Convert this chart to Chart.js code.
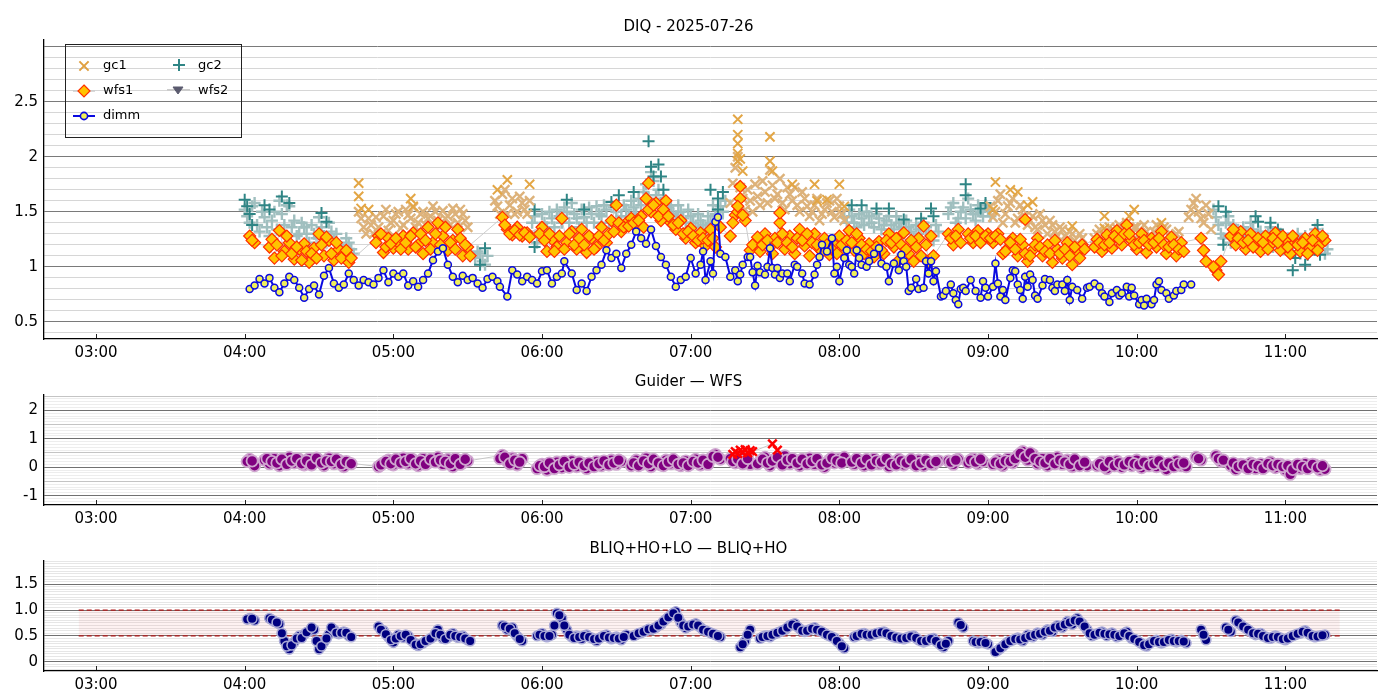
<!DOCTYPE html>
<html>
<head>
<meta charset="utf-8">
<script src="https://cdn.jsdelivr.net/npm/chart.js@4.4.1/dist/chart.umd.min.js"></script>
<style>
body { margin: 0; background: #fff; width: 1400px; height: 700px; overflow: hidden; position: relative; }
canvas { position: absolute; left: 0; }
</style>
</head>
<body>
<canvas id="c0" width="1400" height="362" style="top:0px"></canvas>
<canvas id="c1" width="1400" height="166" style="top:360px"></canvas>
<canvas id="c2" width="1400" height="170" style="top:526px"></canvas>
<script>
// time axis: minutes after midnight. "A" grids hold even minutes from 04:00, "B" grids the odd minutes
const GRID_START = 240;
const GRID_STEP = 2;
const X_MIN = 159, X_MAX = 697;
const hourTicks = [180, 240, 300, 360, 420, 480, 540, 600, 660];
const hourLabels = ['03:00', '04:00', '05:00', '06:00', '07:00', '08:00', '09:00', '10:00', '11:00'];

const titles = ['DIQ - 2025-07-26', 'Guider — WFS', 'BLIQ+HO+LO — BLIQ+HO'];
const seriesNames = ['gc1', 'gc2', 'wfs1', 'wfs2', 'dimm'];

const topYTicks = [0.5, 1, 1.5, 2, 2.5];
const topYLabels = ['0.5', '1', '1.5', '2', '2.5'];
const midYTicks = [-1, 0, 1, 2];
const midYLabels = ['-1', '0', '1', '2'];
const botYTicks = [0, 0.5, 1, 1.5];
const botYLabels = ['0', '0.5', '1.0', '1.5'];

// target band in the lower panel
const bandLo = 0.5, bandHi = 1.0, bandStart = 173, bandEnd = 682;

// ---- DIQ panel ----
// dimm: minutes after 04:00 / value
const dimmT = [2,4,6,8,10,12,14,16,18,20,22,24,26,28,30,32,34,36,38,40,42,44,46,48,50,52,54,56,58,60,62,64,66,68,70,72,74,76,78,80,82,84,86,88,90,92,94,96,98,
  100,102,103,106,108,110,112,114,116,118,120,122,124,126,128,129,132,134,136,138,140,142,144,146,148,150,152,154,156,158,160,162,164,166,168,170,172,174,176,178,180,182,184,185,186,188,189,190,191,192,194,196,
  198,199,200,201,203,204,205,206,207,208,210,211,212,213,214,215,216,217,219,220,222,223,225,226,228,230,231,232,233,235,
  237,238,239,240,242,243,244,245,246,247,248,249,251,252,254,256,257,259,260,262,264,265,266,267,268,269,271,272,274,275,
  276,277,278,279,281,282,283,285,286,287,288,289,290,291,293,295,297,298,
  299,300,302,303,304,305,306,307,309,310,311,312,313,314,315,316,317,318,319,320,322,323,325,326,327,328,330,331,332,333,
  334,336,338,340,341,343,345,346,347,349,350,352,353,354,356,357,358,359,361,362,363,364,366,367,368,369,370,372,373,375,376,378,379,382];
const dimmV = [0.80,0.83,0.89,0.85,0.90,0.81,0.77,0.85,0.91,0.88,0.81,0.72,0.80,0.83,0.75,0.92,0.99,0.85,0.81,0.84,0.94,0.88,0.83,0.88,0.86,0.84,0.90,0.97,0.86,0.94,0.91,0.94,0.83,0.87,0.82,0.88,0.94,1.06,1.14,1.17,1.02,0.91,0.86,0.92,0.88,0.90,0.85,0.81,0.89,
  0.91,0.87,0.82,0.73,0.97,0.93,0.87,0.91,0.88,0.85,0.96,0.97,0.85,0.91,0.94,1.05,0.94,0.79,0.85,0.78,0.91,0.97,1.02,1.15,1.08,1.12,0.99,1.12,1.20,1.32,1.26,1.21,1.34,1.19,1.09,1.02,0.91,0.82,0.88,0.91,1.08,0.94,1.02,1.14,0.88,1.05,0.94,1.41,1.45,1.12,1.09,0.91,
  0.97,0.87,0.93,1.02,1.09,1.09,0.95,0.83,1.01,0.95,0.93,1.00,1.17,0.99,0.93,0.99,0.90,0.94,0.94,0.87,1.02,1.00,0.94,0.85,0.84,0.93,1.02,1.09,1.20,1.14,
  1.26,0.94,1.00,0.87,1.08,1.15,1.02,1.00,0.94,1.15,1.08,1.02,1.00,1.05,1.12,1.17,1.03,1.00,0.87,1.03,0.97,1.11,1.05,1.00,0.78,0.81,0.89,0.80,0.81,1.05,
  0.94,1.05,0.87,0.96,0.73,0.74,0.78,0.84,0.76,0.70,0.66,0.80,0.81,0.78,0.88,0.78,0.72,0.87,
  0.81,0.73,0.82,1.03,0.85,0.73,0.79,0.70,0.90,0.97,0.96,0.84,0.79,0.71,0.91,0.82,0.93,0.88,0.74,0.71,0.83,0.89,0.88,0.81,0.78,0.84,0.84,0.78,0.88,0.70,
  0.82,0.79,0.71,0.81,0.82,0.85,0.82,0.76,0.73,0.68,0.76,0.79,0.74,0.76,0.82,0.73,0.81,0.74,0.66,0.70,0.65,0.71,0.66,0.70,0.84,0.87,0.79,0.76,0.71,0.74,0.78,0.79,0.84,0.84];

// wfs1 (rows = hours 04..11)
const wfs1A = [
  null,1.28,1.22,null,null,1.18,1.08,1.33,1.14,1.22,1.07,1.16,1.21,1.04,1.17,1.30,1.10,1.24,1.06,1.16,1.12,1.04,null,null,null,null,null,1.28,1.13,1.26,
  1.17,1.22,1.28,1.16,1.31,1.20,1.12,1.36,1.22,1.40,1.28,1.15,1.24,1.34,1.10,1.18,null,null,null,null,null,null,1.45,1.34,1.29,1.36,1.28,1.31,null,null,
  1.36,1.14,1.25,1.18,1.44,1.22,1.32,1.16,1.34,1.13,1.26,1.18,1.36,1.22,1.42,1.56,1.32,1.40,1.44,1.36,1.46,1.62,1.50,1.58,1.42,1.60,1.40,1.34,1.42,1.26,
  1.35,1.22,1.31,1.19,1.34,1.18,1.36,null,1.28,1.47,1.62,1.42,1.15,1.22,1.14,1.30,1.18,1.26,1.40,1.16,1.28,1.12,1.34,1.19,1.10,1.30,1.16,1.26,1.11,1.20,
  1.28,1.14,1.33,1.15,1.26,1.12,1.21,1.09,1.23,1.12,1.30,1.18,1.06,1.31,1.12,1.05,1.26,1.37,1.04,1.10,null,null,1.30,1.20,1.34,null,1.30,1.22,1.33,1.25,
  1.30,1.22,1.30,1.12,1.17,1.26,1.10,1.20,1.05,1.15,1.26,1.10,1.20,1.04,1.16,1.08,1.22,1.02,1.13,1.20,null,null,1.25,1.14,1.29,1.17,1.33,1.20,1.38,1.24,
  1.16,1.30,1.13,1.26,1.18,1.32,1.12,1.27,1.10,1.22,null,null,null,1.26,1.05,null,0.97,1.05,null,1.28,1.20,1.32,1.16,1.30,1.22,1.14,1.28,1.20,1.31,1.15,
  1.24,1.12,1.22,1.14,1.26,1.17,1.30,1.20,1.24,null
];
const wfs1B = [
  null,1.24,null,null,null,1.25,1.20,1.10,1.28,1.12,1.18,1.06,1.14,1.12,1.08,1.20,1.27,1.12,1.22,1.08,1.15,1.08,null,null,null,null,1.22,1.30,1.18,1.21,
  1.26,1.16,1.22,1.28,1.18,1.30,1.24,1.16,1.30,1.20,1.36,1.22,1.16,1.26,1.20,1.10,null,null,null,null,null,null,1.38,1.30,1.33,1.29,1.31,1.27,null,1.30,
  1.24,1.30,1.14,1.28,1.16,1.30,1.20,1.26,1.20,1.28,1.16,1.28,1.24,1.30,1.32,1.40,1.36,1.37,1.40,1.42,1.36,1.52,1.56,1.46,1.52,1.46,1.38,1.40,1.30,1.32,
  1.28,1.24,1.26,1.24,1.26,null,null,null,1.40,1.50,1.47,null,1.20,1.27,1.20,1.24,1.12,1.22,1.30,1.22,1.18,1.26,1.24,1.30,1.22,1.20,1.14,1.20,1.16,1.12,
  1.20,1.24,1.22,1.30,1.20,1.16,1.14,1.18,1.15,1.24,1.22,1.26,1.20,1.16,1.24,1.18,1.10,1.20,1.28,null,null,null,1.26,1.28,1.22,null,1.26,1.28,1.22,1.28,
  1.26,1.28,1.25,1.14,1.22,1.16,1.25,1.12,1.10,1.20,1.18,1.14,1.12,1.24,1.12,1.16,1.10,1.18,1.08,1.16,null,1.18,1.22,1.20,1.22,1.28,1.25,1.30,1.30,1.20,
  1.22,1.24,1.20,1.22,1.26,1.20,1.18,1.20,1.16,1.14,null,null,null,1.15,null,1.00,0.93,null,null,1.34,1.26,1.22,1.24,1.18,1.26,1.22,1.16,1.26,1.22,1.28,
  1.18,1.28,1.20,1.22,1.12,1.24,1.15,1.28,null,null
];
const wfs1SpikeT = [163, 199, 200, 216, 315, 387, 393];
const wfs1SpikeV = [1.76, 1.55, 1.73, 1.49, 1.43, 1.15, 0.93];

const gc1A = [
  null,null,null,null,null,null,null,null,null,null,null,null,null,null,null,null,null,null,null,null,null,null,null,1.50,1.36,1.44,1.30,1.36,1.46,1.33,
  1.42,1.50,1.38,1.47,1.54,1.40,1.50,1.44,1.55,1.42,1.51,1.46,1.53,1.40,1.48,1.36,null,null,null,null,null,1.55,1.66,1.48,1.62,1.50,1.58,1.48,null,null,
  null,null,null,null,null,null,null,null,null,null,null,null,null,null,null,null,null,null,null,null,null,null,null,null,null,null,null,null,null,null,
  null,null,null,null,null,null,null,null,1.58,1.90,1.72,1.52,1.60,1.75,1.56,1.68,1.88,1.62,1.80,1.52,1.66,1.72,1.50,1.62,1.46,1.56,1.42,1.52,1.60,1.45,
  1.55,1.42,null,null,null,null,null,null,null,null,null,null,null,null,null,null,null,null,null,null,null,null,null,null,null,null,null,null,null,null,
  null,1.45,1.60,1.40,1.55,1.62,1.44,1.52,1.38,1.46,1.34,1.42,1.30,1.38,1.28,1.34,1.22,1.30,1.20,1.26,null,null,1.30,1.22,1.32,1.26,1.35,1.28,1.40,1.30,
  1.36,1.25,1.32,1.22,1.38,1.28,1.34,1.22,1.30,1.20,null,1.52,1.62,1.44,1.56,1.34,null,null,null,null,null,null,null,null,null,null,null,null,null,null,
  null,null,null,null,null,null,null,null,null,null
];
const gc1B = [
  null,null,null,null,null,null,null,null,null,null,null,null,null,null,null,null,null,null,null,null,null,null,null,1.44,1.30,1.38,1.45,1.30,1.52,1.40,
  1.48,1.35,1.52,1.44,1.36,1.48,1.38,1.46,1.50,1.36,1.44,1.38,1.48,1.52,1.42,null,null,null,null,null,1.60,1.48,1.70,1.56,1.48,1.64,1.52,1.60,null,null,
  null,null,null,null,null,null,null,null,null,null,null,null,null,null,null,null,null,null,null,null,null,null,null,null,null,null,null,null,null,null,
  null,null,null,null,null,null,null,null,1.76,2.00,1.62,1.70,1.50,1.64,1.78,1.58,1.74,1.66,1.58,1.72,1.60,1.56,1.68,1.55,1.50,1.62,1.48,1.58,1.50,1.62,
  1.48,null,null,null,null,null,null,null,null,null,null,null,null,null,null,null,null,null,null,null,null,null,null,null,null,null,null,null,null,null,
  1.55,1.50,1.66,1.48,1.58,1.40,1.56,1.46,1.42,1.36,1.48,1.38,1.42,1.32,1.36,1.28,1.32,1.24,1.30,null,null,1.26,1.34,1.28,1.36,1.30,1.38,1.32,1.26,1.36,
  1.30,1.38,1.28,1.32,1.24,1.36,1.28,1.24,1.32,null,1.45,1.58,1.50,1.40,1.48,null,null,null,null,null,null,null,null,null,null,null,null,null,null,null,
  null,null,null,null,null,null,null,null,null,null
];
const gc1SpikeT = [46,46,47,50,67,68,106,102,115,199,199,199,199,199,200,201,212,212,213,221,230,231,235,240,242,303,309,312,318,302,316,334,347,347,351,357,359,370];
const gc1SpikeV = [1.76,1.64,1.53,1.52,1.62,1.55,1.79,1.70,1.75,2.34,2.20,2.12,2.03,1.96,1.98,1.87,2.18,1.96,1.87,1.75,1.75,1.60,1.61,1.75,1.55,1.77,1.70,1.68,1.59,1.52,1.56,1.37,1.46,1.35,1.33,1.46,1.52,1.40];

const gc2A = [
  1.52,1.40,1.58,1.32,1.45,1.28,1.50,1.60,1.38,1.55,1.42,1.30,1.36,1.22,1.30,1.45,1.28,1.40,1.24,1.20,1.14,1.22,1.12,null,null,null,null,null,null,null,
  null,null,null,null,null,null,null,null,null,null,null,null,null,null,null,null,null,1.14,1.05,1.10,null,null,null,null,null,null,null,null,1.40,1.22,
  1.48,1.36,1.44,1.52,1.40,1.50,1.58,1.44,1.52,1.40,1.48,1.55,1.46,1.52,1.42,1.50,1.46,1.52,1.60,1.48,1.56,1.75,1.86,1.65,1.58,1.50,1.56,1.46,1.50,1.40,
  1.46,1.36,1.42,1.34,1.40,1.48,1.55,1.60,null,null,null,null,null,null,null,null,null,null,null,null,null,null,null,null,null,null,null,null,null,null,
  null,1.45,1.52,1.40,1.48,1.38,1.46,1.36,1.44,1.38,1.46,1.34,1.40,1.30,1.36,1.26,1.34,1.40,1.30,1.24,1.32,null,1.48,1.58,1.44,1.54,1.62,1.48,1.56,1.46,
  1.52,null,null,null,null,null,null,null,null,null,null,null,null,null,null,null,null,null,null,null,null,null,null,null,null,null,null,null,null,null,
  null,null,null,null,null,null,null,null,null,null,null,null,null,null,null,null,1.45,1.30,1.40,1.22,1.34,1.28,1.30,1.40,1.22,1.32,1.26,1.36,1.24,1.30,
  1.20,1.14,1.24,1.12,1.28,1.18,1.34,1.22,1.12,null
];
const gc2B = [
  1.46,1.55,1.38,1.50,1.36,1.42,1.34,1.48,1.56,1.36,1.28,1.40,1.30,1.38,1.26,1.36,1.22,1.32,1.30,1.18,1.26,1.16,null,null,null,null,null,null,null,null,
  null,null,null,null,null,null,null,null,null,null,null,null,null,null,null,null,1.08,1.12,1.02,null,null,null,null,null,null,null,null,1.28,1.46,1.32,
  1.40,1.50,1.36,1.46,1.54,1.40,1.48,1.36,1.45,1.54,1.40,1.48,1.56,1.40,1.54,1.40,1.56,1.46,1.54,1.62,1.68,1.62,1.78,1.70,1.62,1.54,1.48,1.56,1.44,1.52,
  1.40,1.48,1.38,1.46,1.56,1.44,1.50,null,null,null,null,null,null,null,null,null,null,null,null,null,null,null,null,null,null,null,null,null,null,null,
  null,1.40,1.46,1.36,1.44,1.50,1.40,1.48,1.34,1.42,1.38,1.46,1.36,1.42,1.32,1.38,1.30,1.36,1.28,1.38,null,null,1.54,1.40,1.50,1.44,1.52,1.42,1.50,1.56,
  1.46,null,null,null,null,null,null,null,null,null,null,null,null,null,null,null,null,null,null,null,null,null,null,null,null,null,null,null,null,null,
  null,null,null,null,null,null,null,null,null,null,null,null,null,null,null,1.52,1.38,1.26,1.46,1.38,1.24,1.36,1.22,1.34,1.28,1.20,1.30,1.18,1.28,1.16,
  1.26,1.18,1.30,1.20,1.16,1.28,1.20,1.30,1.16,null
];
const gc2SpikeT = [0,1,2,3,8,10,15,18,31,33,95,97,117,117,130,137,148,151,157,163,164,165,167,168,169,188,191,193,191,245,249,255,260,266,273,277,278,291,291,297,299,393,396,395,408,409,414,417,423,428,424,433,434,429];
const gc2SpikeV = [1.61,1.55,1.48,1.38,1.56,1.52,1.64,1.58,1.49,1.41,1.02,1.17,1.52,1.18,1.61,1.52,1.59,1.65,1.68,2.14,1.91,1.82,1.93,1.82,1.70,1.70,1.62,1.68,1.52,1.56,1.56,1.53,1.53,1.43,1.44,1.53,1.46,1.75,1.65,1.53,1.58,1.55,1.50,1.20,1.46,1.41,1.40,1.34,0.97,1.02,1.08,1.38,1.11,1.11];

// ---- Guider - WFS panel ----
const guiderA = [
  null,0.28,0.05,null,0.25,0.12,0.30,0.05,0.22,0.35,0.15,0.28,0.08,0.30,0.18,0.25,0.05,0.32,0.12,0.24,0.02,0.15,null,null,null,null,null,0.02,0.15,0.25,
  0.08,0.22,0.32,0.12,0.26,0.05,0.30,0.15,0.22,0.35,0.10,0.28,0.02,0.25,0.15,0.22,null,null,null,null,null,null,0.42,0.20,0.32,0.08,0.30,null,null,-0.05,
  0.10,-0.10,0.05,0.18,-0.02,0.12,0.22,0.02,0.15,-0.05,0.10,0.20,0.05,0.15,0.25,0.10,0.20,null,0.05,0.25,0.10,0.32,0.02,0.18,0.08,0.25,0.12,0.20,0.05,0.22,
  0.12,0.28,0.08,0.18,0.30,0.45,0.28,null,0.30,0.15,0.35,0.22,0.10,null,0.20,0.35,0.05,0.28,0.15,0.40,0.12,0.25,0.05,0.22,0.32,0.10,0.18,0.00,0.25,0.15,
  0.30,0.35,null,0.10,0.25,0.05,0.20,0.30,0.12,0.22,0.02,0.18,0.28,0.08,0.20,0.12,0.25,0.05,0.18,0.10,0.22,null,0.22,0.10,0.28,null,0.15,0.30,0.12,0.20,
  null,0.10,0.25,0.05,0.30,0.15,0.40,0.55,0.25,0.45,0.12,0.30,0.05,0.22,0.35,0.10,0.25,0.02,0.20,0.12,0.05,null,0.05,0.18,-0.05,0.10,0.22,0.00,0.15,0.05,
  0.25,-0.02,0.12,0.20,0.02,0.15,-0.08,0.10,0.22,0.05,0.02,null,0.35,0.25,null,null,0.40,0.20,null,0.05,-0.08,0.10,0.00,0.15,-0.05,0.12,0.02,0.18,-0.02,0.10,
  -0.10,-0.25,0.05,-0.05,0.12,0.00,0.08,-0.10,-0.07,null
];
const guiderB = [
  0.20,0.22,null,null,0.30,0.20,0.15,0.28,0.10,0.22,0.30,0.12,0.22,0.08,0.32,0.15,0.22,0.20,0.28,0.10,0.20,0.12,null,null,null,null,null,0.08,0.20,0.12,
  0.28,0.15,0.20,0.30,0.12,0.22,0.10,0.28,0.18,0.25,0.20,0.12,0.30,0.10,0.28,null,null,null,null,null,null,0.30,0.35,0.12,0.25,0.18,null,null,null,0.05,
  0.02,0.15,-0.05,0.08,0.20,0.00,0.10,0.18,0.05,0.15,0.02,0.12,0.22,0.08,0.15,0.25,null,null,0.15,0.05,0.22,0.12,0.28,0.15,0.05,0.18,0.28,0.10,0.15,0.05,
  0.20,0.15,0.25,0.10,0.38,0.35,null,null,0.20,0.28,0.12,0.30,null,0.12,0.28,0.15,0.22,0.35,0.08,0.25,0.30,0.15,0.28,0.12,0.20,0.30,0.08,0.15,0.32,0.22,
  0.15,null,0.18,0.30,0.15,0.28,0.08,0.22,0.18,0.30,0.12,0.08,0.22,0.15,0.28,0.05,0.15,0.25,0.12,0.20,null,null,0.18,0.25,null,null,0.25,0.18,0.28,null,
  null,0.18,0.12,0.22,0.20,0.30,0.48,0.35,0.50,0.30,0.20,0.15,0.30,0.12,0.25,0.18,0.10,0.28,0.05,0.18,null,null,0.12,0.02,0.20,0.05,0.15,0.08,0.20,0.12,
  0.08,0.18,0.05,0.12,0.22,0.05,0.15,0.02,0.12,0.15,null,null,0.30,null,null,null,0.30,0.25,null,0.15,0.02,0.08,-0.05,0.10,0.05,-0.05,0.12,0.05,0.10,0.02,
  0.05,-0.08,0.10,0.02,-0.05,0.10,-0.02,0.05,null,null
];
const flagT = [197, 198, 199, 200, 201, 202, 203, 204, 205, 213, 215];
const flagV = [0.45, 0.55, 0.48, 0.60, 0.52, 0.62, 0.50, 0.58, 0.55, 0.82, 0.60];

// ---- BLIQ+HO+LO - BLIQ+HO panel ----
const bliqA = [
  null,0.84,0.80,null,null,0.84,0.78,0.73,0.40,0.24,0.38,0.50,0.53,0.59,0.62,0.24,0.38,0.53,0.62,0.54,0.58,0.50,null,null,null,null,null,0.68,0.60,0.48,
  0.37,0.52,0.47,0.50,0.38,0.31,0.36,0.42,0.48,0.62,0.45,0.47,0.55,0.47,0.50,0.42,null,null,null,null,null,null,0.70,0.62,0.66,0.49,0.40,null,null,0.50,
  0.55,0.48,0.52,0.94,0.84,0.62,0.48,0.50,0.44,0.52,0.46,0.40,0.48,0.52,0.44,0.48,0.42,0.52,null,0.52,0.56,0.60,0.62,0.66,0.72,0.82,0.90,0.97,0.76,0.65,
  0.70,0.74,0.66,0.60,0.56,0.52,0.48,null,null,null,0.28,0.40,0.62,null,0.45,0.50,0.48,0.54,0.58,0.62,0.70,0.74,0.64,0.58,0.62,0.66,0.60,0.55,0.50,0.46,
  0.36,0.26,null,0.48,0.52,0.55,0.50,0.53,0.56,0.58,0.52,0.48,0.46,0.44,0.48,0.50,0.42,0.38,0.42,0.45,0.36,0.28,0.40,null,0.76,0.66,null,0.40,0.36,0.40,
  0.34,null,0.22,0.30,0.38,0.42,0.46,0.40,0.52,0.48,0.56,0.52,0.62,0.58,0.70,0.66,0.78,0.72,0.84,0.74,0.62,0.50,0.54,0.58,0.50,0.56,0.48,0.52,0.58,0.45,
  0.42,0.35,0.30,0.38,0.42,0.36,0.40,0.44,0.38,0.42,0.36,null,null,0.62,0.42,null,null,null,0.66,0.58,0.80,0.72,0.65,0.58,0.52,0.55,0.48,0.45,0.50,0.46,
  0.42,0.48,0.52,0.55,0.60,0.52,0.48,0.50,0.52,null
];
const bliqB = [
  0.82,0.83,null,null,null,0.81,0.76,0.55,0.30,0.32,0.45,0.46,0.57,0.66,0.40,0.30,0.45,0.66,0.56,0.56,0.56,0.48,null,null,null,null,null,0.62,0.53,0.42,
  0.45,0.50,0.52,0.42,0.33,0.34,0.40,0.45,0.55,0.52,0.44,0.52,0.50,0.48,0.45,0.40,null,null,null,null,null,null,0.68,0.64,0.55,0.44,null,null,null,0.52,
  0.50,0.50,0.70,0.90,0.70,0.52,0.46,0.48,0.50,0.48,0.44,0.45,0.50,0.47,0.46,0.45,0.48,null,0.50,0.55,0.58,0.63,0.64,0.70,0.78,0.86,0.94,0.85,0.70,0.68,
  0.72,0.70,0.62,0.58,0.54,0.50,null,null,null,null,0.34,0.52,null,null,0.48,0.50,0.52,0.56,0.60,0.66,0.72,0.68,0.60,0.60,0.64,0.62,0.58,0.52,0.48,0.40,
  0.30,null,null,0.50,0.54,0.52,0.52,0.55,0.57,0.55,0.50,0.47,0.45,0.46,0.49,0.46,0.40,0.40,0.44,0.40,0.32,0.35,null,null,0.71,null,null,0.38,0.38,0.36,
  null,0.19,0.26,0.34,0.40,0.44,0.43,0.46,0.50,0.52,0.54,0.58,0.60,0.66,0.68,0.72,0.76,0.80,0.78,0.68,0.55,0.52,0.56,0.54,0.53,0.52,0.50,0.55,0.50,0.44,
  0.38,0.32,0.34,0.40,0.38,0.38,0.42,0.40,0.40,0.39,null,null,null,0.52,null,null,null,null,0.62,null,0.76,0.68,0.62,0.55,0.54,0.50,0.46,0.48,0.48,0.44,
  0.45,0.50,0.54,0.58,0.56,0.50,0.49,0.51,null,null
];

const FONT = '"DejaVu Sans", sans-serif';

function gridPts(vals, offset) {
  return vals.map((v, i) => ({ x: GRID_START + offset + i * GRID_STEP, y: v }));
}
function pairPts(ts, vs) {
  return ts.map((t, i) => ({ x: GRID_START + t, y: vs[i] }));
}
function gridLines(lo, hi, step) {
  const out = [];
  for (let k = 0; lo + k * step <= hi + 1e-9; k++) out.push(Math.round((lo + k * step) * 1000) / 1000);
  return out;
}
function isMult(v, s) {
  return Math.abs(v / s - Math.round(v / s)) < 1e-6;
}
function hhmm(v) {
  const i = hourTicks.indexOf(v);
  return i < 0 ? '' : hourLabels[i];
}

function xScale(h) {
  return {
    type: 'linear', min: X_MIN, max: X_MAX,
    afterBuildTicks: s => { s.ticks = hourTicks.map(v => ({ value: v })); },
    ticks: { autoSkip: false, maxRotation: 0, padding: 5, color: '#000', font: { family: FONT, size: 15 }, callback: v => hhmm(v) },
    grid: { display: false, drawTicks: false },
    border: { display: true, color: '#000', width: 1.3 },
    afterFit: s => { s.height = h; s.paddingLeft = 0; s.paddingRight = 0; }
  };
}
function yScale(min, max, lines, majors, labels, colorOf) {
  return {
    type: 'linear', min: min, max: max,
    afterBuildTicks: s => { s.ticks = lines.map(v => ({ value: v })); },
    ticks: {
      autoSkip: false, padding: 6, color: '#000', font: { family: FONT, size: 15 },
      callback: v => { const i = majors.findIndex(m => Math.abs(m - v) < 1e-6); return i < 0 ? '' : labels[i]; }
    },
    grid: { drawTicks: false, lineWidth: 1, color: c => colorOf(c.tick ? c.tick.value : 0) },
    border: { display: true, color: '#000', width: 1.3 },
    afterFit: s => { s.width = 44; s.paddingTop = 0; s.paddingBottom = 0; }
  };
}

// small inward tick marks on the time axis
const innerTicks = {
  id: 'innerTicks',
  afterDraw(chart) {
    const ctx = chart.ctx, xs = chart.scales.x, b = chart.chartArea.bottom;
    ctx.save();
    ctx.strokeStyle = '#222';
    ctx.lineWidth = 1;
    hourTicks.forEach(v => {
      const px = Math.round(xs.getPixelForValue(v)) + 0.5;
      ctx.beginPath(); ctx.moveTo(px, b - 1); ctx.lineTo(px, b - 5); ctx.stroke();
    });
    ctx.restore();
  }
};

function mark(ctx, style, x, y, r, fill, stroke, lw) {
  ctx.beginPath();
  ctx.lineWidth = lw; ctx.strokeStyle = stroke; ctx.fillStyle = fill;
  if (style === 'x') {
    const d = r * 0.707;
    ctx.moveTo(x - d, y - d); ctx.lineTo(x + d, y + d); ctx.moveTo(x - d, y + d); ctx.lineTo(x + d, y - d); ctx.stroke();
  } else if (style === '+') {
    ctx.moveTo(x - r, y); ctx.lineTo(x + r, y); ctx.moveTo(x, y - r); ctx.lineTo(x, y + r); ctx.stroke();
  } else if (style === 'd') {
    ctx.moveTo(x, y - r); ctx.lineTo(x + r, y); ctx.lineTo(x, y + r); ctx.lineTo(x - r, y); ctx.closePath(); ctx.fill(); ctx.stroke();
  } else if (style === 'v') {
    ctx.moveTo(x - r, y - r * 0.6); ctx.lineTo(x + r, y - r * 0.6); ctx.lineTo(x, y + r * 0.8); ctx.closePath(); ctx.fill(); ctx.stroke();
  } else {
    ctx.arc(x, y, r, 0, Math.PI * 2); ctx.fill(); ctx.stroke();
  }
}
function seg(ctx, x0, x1, y, color, lw) {
  ctx.beginPath(); ctx.strokeStyle = color; ctx.lineWidth = lw; ctx.moveTo(x0, y); ctx.lineTo(x1, y); ctx.stroke();
}

const diqLegend = {
  id: 'diqLegend',
  afterDraw(chart) {
    const ctx = chart.ctx;
    ctx.save();
    ctx.strokeStyle = '#222'; ctx.lineWidth = 1;
    ctx.strokeRect(65.5, 44.5, 176, 93);
    mark(ctx, 'x', 84, 66, 6.5, 'none', '#e0a040', 2);
    mark(ctx, '+', 179, 65, 6, 'none', '#2f8585', 2);
    seg(ctx, 73, 95, 91, '#cccccc', 1.5);
    mark(ctx, 'd', 84, 91, 6, '#ffc400', '#ff3000', 1.2);
    seg(ctx, 167, 190, 90, '#cccccc', 2);
    mark(ctx, 'v', 178, 90, 5, '#5a5a6e', '#5a5a6e', 1);
    seg(ctx, 73, 95, 116, '#0a0ae0', 2);
    mark(ctx, 'o', 84, 116, 3.6, '#f0ef5a', '#0a0ae0', 1.6);
    ctx.fillStyle = '#000';
    ctx.font = '13px ' + FONT;
    ctx.textBaseline = 'middle';
    ctx.fillText(seriesNames[0], 103, 66);
    ctx.fillText(seriesNames[1], 198, 66);
    ctx.fillText(seriesNames[2], 103, 91);
    ctx.fillText(seriesNames[3], 198, 91);
    ctx.fillText(seriesNames[4], 103, 116);
    ctx.restore();
  }
};

function titleOpt(text, top, bottom) {
  return { display: true, text: text, color: '#000', font: { family: FONT, size: 15, weight: 'normal' }, padding: { top: top, bottom: bottom } };
}
const common = {
  responsive: false,
  animation: false,
  events: [],
  layout: { padding: { left: 0, right: 23, top: 0, bottom: 0 } }
};

const diamond = { pointStyle: 'rectRot', pointRadius: 6, pointBackgroundColor: '#ffc400', pointBorderColor: '#ff3000', pointBorderWidth: 1.2 };
const gc1Cloud = { pointStyle: 'crossRot', pointRadius: 6.5, pointBorderColor: '#ddb27a', pointBorderWidth: 2.4 };
const gc2Cloud = { pointStyle: 'cross', pointRadius: 6, pointBorderColor: '#a0bfbf', pointBorderWidth: 2.4 };

// ---- chart 1: DIQ ----
const topLines = gridLines(0.4, 3.0, 0.1);
new Chart(document.getElementById('c0'), {
  type: 'scatter',
  data: {
    datasets: [
      { label: seriesNames[4], data: pairPts(dimmT, dimmV), showLine: true, borderColor: '#0a0ae0', borderWidth: 2,
        pointRadius: 3.5, pointBackgroundColor: '#f0ef5a', pointBorderColor: '#0a0ae0', pointBorderWidth: 1.5 },
      Object.assign({ label: 'wfs1 spikes', data: pairPts(wfs1SpikeT, wfs1SpikeV) }, diamond),
      Object.assign({ label: 'wfs1 odd', data: gridPts(wfs1B, 1) }, diamond),
      Object.assign({ label: seriesNames[2], data: gridPts(wfs1A, 0), showLine: true, spanGaps: true, borderColor: '#cccccc', borderWidth: 1 }, diamond),
      { label: 'gc1 spikes', data: pairPts(gc1SpikeT, gc1SpikeV), pointStyle: 'crossRot', pointRadius: 6.5,
        pointBorderColor: '#e3a645', pointBorderWidth: 2 },
      Object.assign({ label: 'gc1 odd', data: gridPts(gc1B, 1) }, gc1Cloud),
      Object.assign({ label: seriesNames[0], data: gridPts(gc1A, 0) }, gc1Cloud),
      { label: 'gc2 spikes', data: pairPts(gc2SpikeT, gc2SpikeV), pointStyle: 'cross', pointRadius: 6,
        pointBorderColor: '#2f8585', pointBorderWidth: 2 },
      Object.assign({ label: 'gc2 odd', data: gridPts(gc2B, 1) }, gc2Cloud),
      Object.assign({ label: seriesNames[1], data: gridPts(gc2A, 0) }, gc2Cloud)
    ]
  },
  options: Object.assign({}, common, {
    plugins: { legend: { display: false }, tooltip: { enabled: false }, title: titleOpt(titles[0], 18, 4) },
    scales: {
      x: xScale(23),
      y: yScale(0.345, 3.06, topLines, topYTicks, topYLabels, v => isMult(v, 0.5) ? '#7a7a7a' : '#d6d6d6')
    }
  }),
  plugins: [innerTicks, diqLegend]
});

// ---- chart 2: Guider - WFS ----
const purple = { pointRadius: 5.6, pointBackgroundColor: '#800080', pointBorderColor: '#cfa6cf', pointBorderWidth: 1.8 };
const midLines = gridLines(-1.3, 2.5, 0.1);
new Chart(document.getElementById('c1'), {
  type: 'scatter',
  data: {
    datasets: [
      { label: 'flag', data: pairPts(flagT, flagV), showLine: true, borderColor: '#c8c8c8', borderWidth: 1,
        pointStyle: 'crossRot', pointRadius: 6, pointBorderColor: '#ff0000', pointBorderWidth: 2.5 },
      Object.assign({ label: 'guider odd', data: gridPts(guiderB, 1) }, purple),
      Object.assign({ label: 'guider', data: gridPts(guiderA, 0), showLine: true, spanGaps: true, borderColor: '#c8c8c8', borderWidth: 1 }, purple)
    ]
  },
  options: Object.assign({}, common, {
    plugins: { legend: { display: false }, tooltip: { enabled: false }, title: titleOpt(titles[1], 13, 4) },
    scales: {
      x: xScale(21),
      y: yScale(-1.33, 2.54, midLines, midYTicks, midYLabels,
        v => isMult(v, 1) ? '#707070' : (isMult(v, 0.5) ? '#c4c4c4' : '#ededed'))
    }
  }),
  plugins: [innerTicks]
});

// ---- chart 3: BLIQ ----
const navy = { pointRadius: 4.8, pointBackgroundColor: '#000080', pointBorderColor: '#a9a9d6', pointBorderWidth: 1.6 };
const botLines = gridLines(-0.15, 1.95, 0.05);
new Chart(document.getElementById('c2'), {
  type: 'scatter',
  data: {
    datasets: [
      Object.assign({ label: 'bliq odd', data: gridPts(bliqB, 1) }, navy),
      Object.assign({ label: 'bliq', data: gridPts(bliqA, 0) }, navy),
      { type: 'line', label: 'hi', data: [{ x: bandStart, y: bandHi }, { x: bandEnd, y: bandHi }],
        borderColor: '#b01818', borderWidth: 1.3, borderDash: [5, 3], pointRadius: 0, fill: false },
      { type: 'line', label: 'lo', data: [{ x: bandStart, y: bandLo }, { x: bandEnd, y: bandLo }],
        borderColor: '#b01818', borderWidth: 1.3, borderDash: [5, 3], pointRadius: 0,
        fill: '-1', backgroundColor: 'rgba(235,80,80,0.08)' }
    ]
  },
  options: Object.assign({}, common, {
    plugins: { legend: { display: false }, tooltip: { enabled: false }, title: titleOpt(titles[2], 14, 3) },
    scales: {
      x: xScale(25),
      y: yScale(-0.18, 1.95, botLines, botYTicks, botYLabels, v => isMult(v, 0.5) ? '#707070' : '#e6e6e6')
    }
  }),
  plugins: [innerTicks]
});
</script>
</body>
</html>
